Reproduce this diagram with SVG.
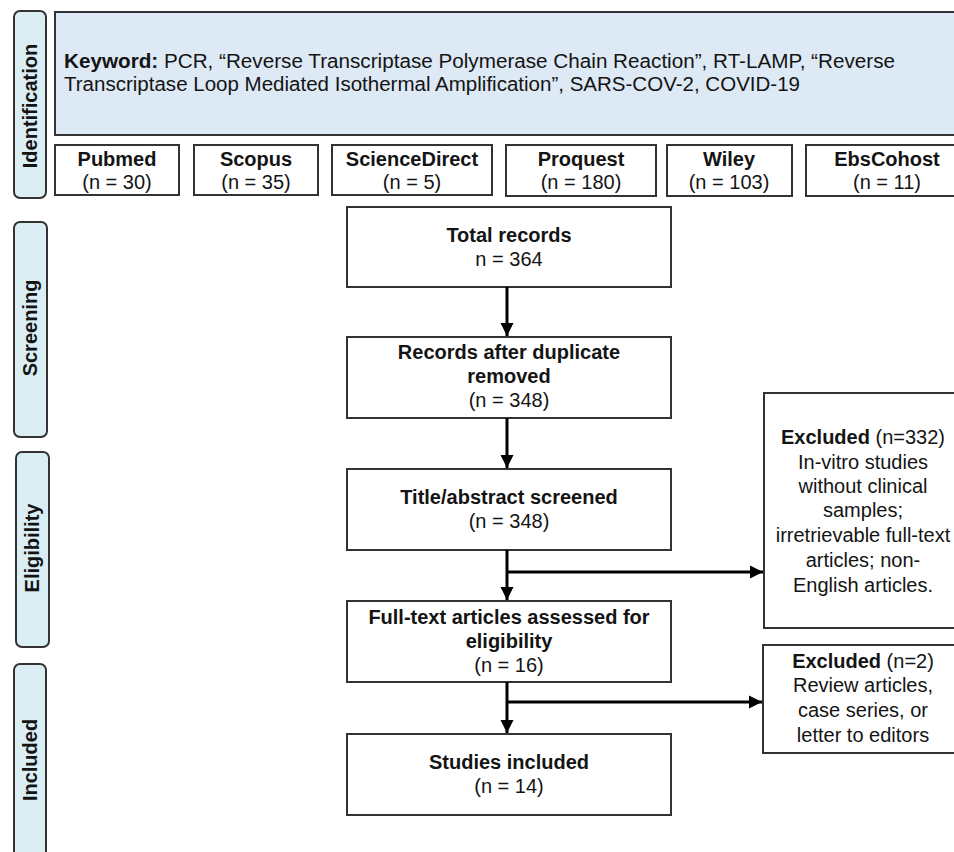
<svg xmlns="http://www.w3.org/2000/svg" width="954" height="852" viewBox="0 0 954 852">
<defs>
<style>
text{font-family:"Liberation Sans",Arial,sans-serif;font-size:20px;fill:#141414}
.b{font-weight:bold}
.c{text-anchor:middle}
.box{fill:#fff;stroke:#333;stroke-width:2}
.kw{fill:#dde9f5;stroke:#333;stroke-width:2}
.tab{fill:#daeef4;stroke:#333;stroke-width:2}
.ln{stroke:#000;stroke-width:3;fill:none}
</style>
<marker id="ah" viewBox="0 0 10 10" refX="10" refY="5" markerWidth="4.5" markerHeight="4.5" orient="auto" markerUnits="strokeWidth">
<path d="M0,0 L10,5 L0,10 Z" fill="#000"/>
</marker>
</defs>
<rect width="954" height="852" fill="#fff"/>

<g id="tab-identification"><rect class="tab" x="14" y="11" width="32" height="187" rx="6"/><text class="b c" transform="translate(37,106) rotate(-90)">Identification</text></g>
<g id="tab-screening"><rect class="tab" x="14" y="222" width="33" height="215" rx="6"/><text class="b c" transform="translate(37,328) rotate(-90)">Screening</text></g>
<g id="tab-eligibility"><rect class="tab" x="16" y="452" width="33" height="195" rx="6"/><text class="b c" transform="translate(39,548) rotate(-90)">Eligibility</text></g>
<g id="tab-included"><rect class="tab" x="14" y="664" width="32" height="200" rx="6"/><text class="b c" transform="translate(37,760) rotate(-90)">Included</text></g>

<g id="keyword"><rect class="kw" x="55" y="12" width="910" height="123"/>
<text x="64" y="68" textLength="831" lengthAdjust="spacingAndGlyphs"><tspan class="b">Keyword:</tspan> PCR, “Reverse Transcriptase Polymerase Chain Reaction”, RT-LAMP, “Reverse</text>
<text x="64" y="91" textLength="736" lengthAdjust="spacingAndGlyphs">Transcriptase Loop Mediated Isothermal Amplification”, SARS-COV-2, COVID-19</text></g>

<g id="pubmed"><rect class="box" x="55" y="145" width="124" height="50"/><text class="b c" x="117" y="166">Pubmed</text><text class="c" x="117" y="189">(n = 30)</text></g>
<g id="scopus"><rect class="box" x="194" y="145" width="124" height="50"/><text class="b c" x="256" y="166">Scopus</text><text class="c" x="256" y="189">(n = 35)</text></g>
<g id="sciencedirect"><rect class="box" x="332" y="145" width="160" height="50"/><text class="b c" x="412" y="166">ScienceDirect</text><text class="c" x="412" y="189">(n = 5)</text></g>
<g id="proquest"><rect class="box" x="506" y="145" width="150" height="51"/><text class="b c" x="581" y="166">Proquest</text><text class="c" x="581" y="189">(n = 180)</text></g>
<g id="wiley"><rect class="box" x="667" y="145" width="125" height="51"/><text class="b c" x="729" y="166">Wiley</text><text class="c" x="729" y="189">(n = 103)</text></g>
<g id="ebscohost"><rect class="box" x="806" y="145" width="160" height="51"/><text class="b c" x="887" y="166">EbsCohost</text><text class="c" x="887" y="189">(n = 11)</text></g>

<g id="total"><rect class="box" x="347" y="207" width="324" height="80"/><text class="b c" x="509" y="242">Total records</text><text class="c" x="509" y="266">n = 364</text></g>
<g id="dedup"><rect class="box" x="347" y="337" width="324" height="81"/><text class="b c" x="509" y="359">Records after duplicate</text><text class="b c" x="509" y="383">removed</text><text class="c" x="509" y="407">(n = 348)</text></g>
<g id="screened"><rect class="box" x="347" y="469" width="324" height="81"/><text class="b c" x="509" y="504">Title/abstract screened</text><text class="c" x="509" y="528">(n = 348)</text></g>
<g id="fulltext"><rect class="box" x="347" y="601" width="324" height="81"/><text class="b c" x="509" y="624">Full-text articles assessed for</text><text class="b c" x="509" y="648">eligibility</text><text class="c" x="509" y="672">(n = 16)</text></g>
<g id="included"><rect class="box" x="347" y="734" width="324" height="81"/><text class="b c" x="509" y="769">Studies included</text><text class="c" x="509" y="793">(n = 14)</text></g>

<g id="excluded1"><rect class="box" x="764" y="393" width="200" height="235"/>
<text class="c" x="863" y="444"><tspan class="b">Excluded</tspan> (n=332)</text>
<text class="c" x="863" y="469">In-vitro studies</text>
<text class="c" x="863" y="493">without clinical</text>
<text class="c" x="863" y="517">samples;</text>
<text class="c" x="863" y="542">irretrievable full-text</text>
<text class="c" x="863" y="567">articles; non-</text>
<text class="c" x="863" y="592">English articles.</text></g>
<g id="excluded2"><rect class="box" x="763" y="645" width="200" height="108"/>
<text class="c" x="863" y="668"><tspan class="b">Excluded</tspan> (n=2)</text>
<text class="c" x="863" y="692">Review articles,</text>
<text class="c" x="863" y="717">case series, or</text>
<text class="c" x="863" y="742">letter to editors</text></g>

<g id="connectors">
<line class="ln" x1="507" y1="287" x2="507" y2="336" marker-end="url(#ah)"/>
<line class="ln" x1="507" y1="418" x2="507" y2="468" marker-end="url(#ah)"/>
<line class="ln" x1="507" y1="550" x2="507" y2="600" marker-end="url(#ah)"/>
<line class="ln" x1="507" y1="682" x2="507" y2="733" marker-end="url(#ah)"/>
<line class="ln" x1="507" y1="572" x2="763" y2="572" marker-end="url(#ah)"/>
<line class="ln" x1="507" y1="702" x2="762" y2="702" marker-end="url(#ah)"/>
</g>
</svg>
